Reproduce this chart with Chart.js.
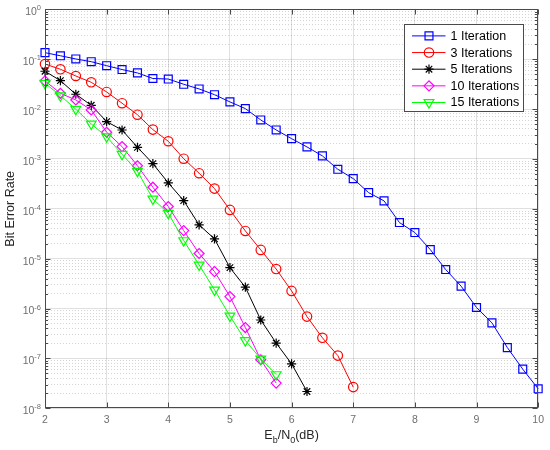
<!DOCTYPE html>
<html>
<head>
<meta charset="utf-8">
<script src="https://cdn.jsdelivr.net/npm/chart.js@4.4.0/dist/chart.umd.min.js"></script>
<style>
  html, body { margin: 0; padding: 0; background: #fff; }
</style>
</head>
<body>
<canvas id="berChart" width="550" height="450"></canvas>
<script>
// Eb/N0 (dB) sample points for each curve
const ebn0_1 = [2, 2.25, 2.5, 2.75, 3, 3.25, 3.5, 3.75, 4, 4.25, 4.5, 4.75, 5, 5.25, 5.5, 5.75,
  6, 6.25, 6.5, 6.75, 7, 7.25, 7.5, 7.75, 8, 8.25, 8.5, 8.75, 9, 9.25, 9.5, 9.75, 10];
const ebn0_3 = [2, 2.25, 2.5, 2.75, 3, 3.25, 3.5, 3.75, 4, 4.25, 4.5, 4.75, 5, 5.25, 5.5, 5.75,
  6, 6.25, 6.5, 6.75, 7];
const ebn0_5 = [2, 2.25, 2.5, 2.75, 3, 3.25, 3.5, 3.75, 4, 4.25, 4.5, 4.75, 5, 5.25, 5.5, 5.75,
  6, 6.25];
const ebn0_10 = [2, 2.25, 2.5, 2.75, 3, 3.25, 3.5, 3.75, 4, 4.25, 4.5, 4.75, 5, 5.25, 5.5, 5.75];
const ebn0_15 = [2, 2.25, 2.5, 2.75, 3, 3.25, 3.5, 3.75, 4, 4.25, 4.5, 4.75, 5, 5.25, 5.5, 5.75];

// bit error rate
const ber_1 = [0.135, 0.117, 0.101, 0.089, 0.074, 0.062, 0.053, 0.041, 0.040, 0.0314, 0.0253,
  0.0194, 0.0139, 0.0102, 0.00605, 0.00381, 0.00255, 0.00174, 0.00115, 6.2e-4, 4.03e-4,
  2.11e-4, 1.44e-4, 5.3e-5, 3.34e-5, 1.52e-5, 6.05e-6, 2.81e-6, 1.05e-6, 5.17e-7, 1.65e-7,
  6.1e-8, 2.46e-8];
const ber_3 = [0.080, 0.0627, 0.046, 0.0344, 0.022, 0.0131, 0.0077, 0.00387, 0.00226, 0.00101,
  5.17e-4, 2.54e-4, 9.5e-5, 3.6e-5, 1.5e-5, 6.2e-6, 2.26e-6, 6.9e-7, 2.59e-7, 1.14e-7, 2.66e-8];
const ber_5 = [0.0572, 0.0371, 0.0198, 0.0119, 0.0056, 0.0038, 0.00171, 8.05e-4, 3.3e-4,
  1.46e-4, 4.75e-5, 2.49e-5, 6.6e-6, 2.68e-6, 5.9e-7, 2.03e-7, 7.8e-8, 2.17e-8];
const ber_10 = [0.0366, 0.0207, 0.0152, 0.0096, 0.00343, 0.00177, 7.3e-4, 2.71e-4, 1.11e-4,
  3.66e-5, 1.27e-5, 5.5e-6, 1.74e-6, 4.16e-7, 9.4e-8, 3.2e-8];
const ber_15 = [0.0329, 0.0186, 0.0099, 0.00503, 0.0028, 0.00124, 5.67e-4, 1.58e-4, 8.2e-5,
  2.31e-5, 7.5e-6, 2.37e-6, 7.1e-7, 2.29e-7, 9.8e-8, 4.75e-8];

const seriesNames = ['1 Iteration', '3 Iterations', '5 Iterations', '10 Iterations', '15 Iterations'];
const seriesColors = ['#0000ff', '#ff0000', '#000000', '#ff00ff', '#00ff00'];
const seriesMarkers = ['rect', 'circle', 'star', 'rectRot', 'triangle'];
const markerRadius = [5.6, 4.7, 4.6, 5, 5.6];
const markerRotation = [0, 0, 0, 0, 180];

// y axis decades (exponents) for the tick labels
const yExponents = [0, -1, -2, -3, -4, -5, -6, -7, -8];

const FONT = "'Liberation Sans', Arial, sans-serif";
const axisColor = '#4a4a4a';
const tickTextColor = '#6e6e6e';

function isDecade(v) {
  const l = Math.log10(v);
  return Math.abs(l - Math.round(l)) < 1e-6;
}

// grid values for a MATLAB style log axis: 1..9 x 10^k
const yGridVals = [];
for (let k = -8; k < 0; k++) {
  for (let m = 1; m <= 9; m++) yGridVals.push(m * Math.pow(10, k));
}
yGridVals.push(1);

const xs = [ebn0_1, ebn0_3, ebn0_5, ebn0_10, ebn0_15];
const ys = [ber_1, ber_3, ber_5, ber_10, ber_15];

const datasets = seriesNames.map(function(name, i) {
  return {
    label: name,
    data: xs[i].map(function(x, j) { return { x: x, y: ys[i][j] }; }),
    borderColor: seriesColors[i],
    borderWidth: 1,
    pointStyle: seriesMarkers[i],
    pointRadius: markerRadius[i],
    pointHoverRadius: markerRadius[i],
    pointRotation: markerRotation[i],
    pointBorderColor: seriesColors[i],
    pointBackgroundColor: 'rgba(0,0,0,0)',
    pointBorderWidth: 1.2,
    tension: 0,
    fill: false,
    clip: false,
    order: seriesNames.length - i
  };
});

function line(ctx, x1, y1, x2, y2) {
  ctx.beginPath();
  ctx.moveTo(x1, y1);
  ctx.lineTo(x2, y2);
  ctx.stroke();
}

// box, inward ticks, y labels with exponents, x title and legend
const matlabAxes = {
  id: 'matlabAxes',
  afterDatasetsDraw(chart) {
    const ctx = chart.ctx;
    const a = chart.chartArea;
    const xs = chart.scales.x, ys = chart.scales.y;
    const L = Math.round(a.left) + 0.5, R = Math.round(a.right) - 0.5;
    const T = Math.round(a.top) + 0.5, B = Math.round(a.bottom) - 0.5;
    ctx.save();
    ctx.strokeStyle = axisColor;
    ctx.lineWidth = 1;
    ctx.strokeRect(L, T, R - L, B - T);

    xs.ticks.forEach(function(t) {
      const px = Math.round(xs.getPixelForValue(t.value)) + 0.5;
      line(ctx, px, B, px, B - 5);
      line(ctx, px, T, px, T + 5);
    });
    ys.ticks.forEach(function(t) {
      const py = Math.round(ys.getPixelForValue(t.value)) + 0.5;
      const len = isDecade(t.value) ? 5 : 2.5;
      line(ctx, L, py, L + len, py);
      line(ctx, R, py, R - len, py);
    });

    // y tick labels 10^k
    ctx.fillStyle = tickTextColor;
    ctx.textBaseline = 'middle';
    ctx.textAlign = 'left';
    yExponents.forEach(function(e) {
      const py = ys.getPixelForValue(Math.pow(10, e));
      const expText = e === 0 ? '0' : '-' + Math.abs(e);
      ctx.font = '10.5px ' + FONT;
      const wBase = ctx.measureText('10').width;
      ctx.font = '7.5px ' + FONT;
      const wExp = ctx.measureText(expText).width;
      const x0 = a.left - 4 - wBase - wExp;
      ctx.font = '10.5px ' + FONT;
      ctx.fillText('10', x0, py + 3);
      ctx.font = '7.5px ' + FONT;
      ctx.fillText(expText, x0 + wBase, py - 1);
    });
    ctx.restore();
  },
  afterDraw(chart) {
    const ctx = chart.ctx;
    const a = chart.chartArea;
    ctx.save();

    // x axis title E_b/N_0(dB)
    const parts = [['E', 0], ['b', 1], ['/N', 0], ['0', 1], ['(dB)', 0]];
    let total = 0;
    parts.forEach(function(p) {
      ctx.font = (p[1] ? '9px ' : '12.5px ') + FONT;
      total += ctx.measureText(p[0]).width;
    });
    let tx = (a.left + a.right) / 2 - total / 2;
    const baseY = 439;
    ctx.fillStyle = '#262626';
    ctx.textBaseline = 'alphabetic';
    ctx.textAlign = 'left';
    parts.forEach(function(p) {
      ctx.font = (p[1] ? '9px ' : '12.5px ') + FONT;
      ctx.fillText(p[0], tx, baseY + (p[1] ? 3.5 : 0));
      tx += ctx.measureText(p[0]).width;
    });

    // legend box in the upper right of the plot
    const bx = Math.round(a.right - 134) + 0.5, by = Math.round(a.top + 15) + 0.5;
    const bw = 119, bh = 87;
    ctx.fillStyle = '#ffffff';
    ctx.fillRect(bx, by, bw, bh);
    ctx.strokeStyle = axisColor;
    ctx.lineWidth = 1;
    ctx.strokeRect(bx, by, bw, bh);
    chart.data.datasets.forEach(function(ds, i) {
      const ry = by + 11.4 + i * 16.65;
      ctx.strokeStyle = ds.borderColor;
      ctx.lineWidth = 1;
      line(ctx, bx + 7.5, ry, bx + 41, ry);
      ctx.fillStyle = 'rgba(0,0,0,0)';
      ctx.lineWidth = ds.pointBorderWidth;
      Chart.helpers.drawPoint(ctx, {
        pointStyle: ds.pointStyle,
        radius: ds.pointRadius,
        rotation: ds.pointRotation,
        borderWidth: ds.pointBorderWidth
      }, bx + 24.5, ry);
      ctx.fillStyle = '#000000';
      ctx.font = '12.5px ' + FONT;
      ctx.textBaseline = 'middle';
      ctx.fillText(ds.label, bx + 46, ry + 0.5);
    });
    ctx.restore();
  }
};

const ctx = document.getElementById('berChart').getContext('2d');
const berChart = new Chart(ctx, {
  type: 'line',
  data: { datasets: datasets },
  plugins: [matlabAxes],
  options: {
    responsive: false,
    animation: false,
    events: [],
    layout: { padding: { top: 9.3, right: 11.5, left: 0, bottom: 0 } },
    plugins: {
      legend: { display: false },
      tooltip: { enabled: false }
    },
    scales: {
      x: {
        type: 'linear',
        min: 2,
        max: 10,
        ticks: {
          stepSize: 1,
          color: tickTextColor,
          font: { family: FONT, size: 10.5 },
          padding: 6,
          maxRotation: 0,
          autoSkip: false
        },
        grid: { color: 'rgba(38,38,38,0.14)', drawTicks: false, lineWidth: 1 },
        border: { display: false },
        afterFit: function(s) { s.height = 41.7; }
      },
      y: {
        type: 'logarithmic',
        min: 1e-8,
        max: 1,
        afterBuildTicks: function(s) {
          s.ticks = yGridVals.map(function(v) { return { value: v }; });
        },
        ticks: { display: false },
        grid: {
          drawTicks: false,
          lineWidth: 1,
          color: function(c) {
            if (c.tick && !isDecade(c.tick.value)) return 'rgba(38,38,38,0.2)';
            return 'rgba(38,38,38,0.14)';
          }
        },
        border: {
          display: false,
          dash: function(c) {
            return (c.tick && !isDecade(c.tick.value)) ? [1, 2] : [];
          }
        },
        title: {
          display: true,
          text: 'Bit Error Rate',
          color: '#262626',
          font: { family: FONT, size: 12.5 },
          padding: { top: 3.5, bottom: 0 }
        },
        afterFit: function(s) { s.width = 45; }
      }
    }
  }
});
</script>
</body>
</html>
